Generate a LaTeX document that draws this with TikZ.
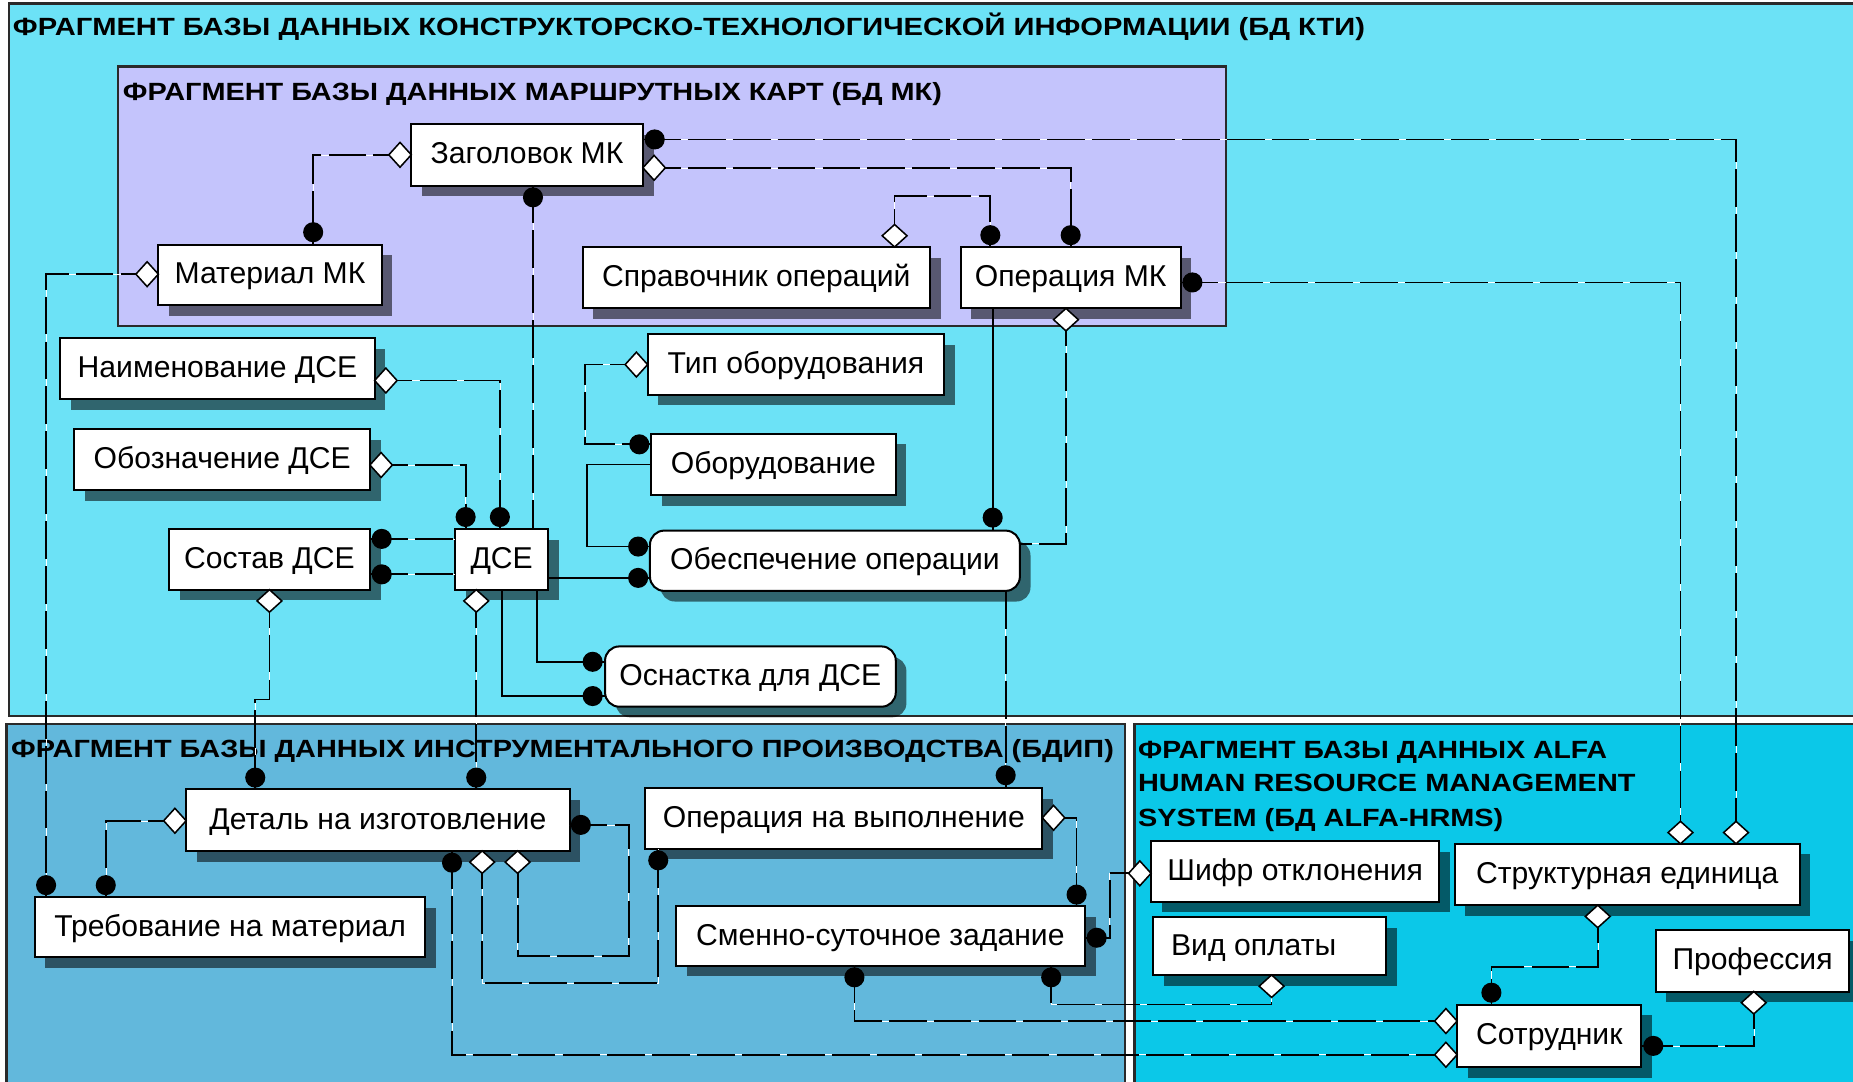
\documentclass[tikz,border=0pt]{standalone}
\usepackage{fontspec}
\setmainfont{Liberation Sans}
\usepackage{graphicx}
\usetikzlibrary{shadows}
\definecolor{ckti}{HTML}{6CE2F6}
\definecolor{cmk}{HTML}{C4C4FC}
\definecolor{cdip}{HTML}{62B8DC}
\definecolor{calfa}{HTML}{0BC8E8}
\definecolor{cbord}{HTML}{2A2A2A}
\newcommand\ttlx[3]{\resizebox{#1}{#2}{\bfseries\smash{#3}\vphantom{H}}}
\newcommand\ebox[7][]{\node[ebx,#1,minimum width={(#5-#3)*1pt},minimum height={(#6-#4)*1pt}] (#2) at ({(#3+#5)/2},{(#4+#6)/2}) {#7};}
\begin{document}
\begin{tikzpicture}[x=1pt,y=-1pt,
  ebx/.style={draw=black,line width=1.7pt,fill=white,inner sep=0pt,outer sep=0pt,
     font=\fontsize{25.5}{30}\selectfont,text height=18.4pt,text depth=3pt,
     drop shadow={shadow xshift=9pt,shadow yshift=-9pt,fill=black,opacity=.55}},
  rnd/.style={rounded corners=12pt},
  dl/.style={line width=1.5pt,draw=black,dash pattern=on 32pt off 6pt,preaction={draw=white,solid}},
  sl/.style={line width=1.5pt,draw=black},
  pnl/.style={draw=cbord,line width=2.2pt},
  ttl/.style={anchor=west,inner sep=0pt,outer sep=0pt},
  mdot/.pic={\fill[black] (0,0) circle (8.5pt);},
  hdia/.pic={\filldraw[fill=white,draw=black,line width=1.3pt] (-9.5,0)--(0,-10.5)--(9.5,0)--(0,10.5)--cycle;},
  vdia/.pic={\filldraw[fill=white,draw=black,line width=1.3pt] (-10.5,0)--(0,-9.5)--(10.5,0)--(0,9.5)--cycle;}
]
\useasboundingbox (0,0) rectangle (1568,915);
\clip (0,0) rectangle (1568,915);
\fill[white] (0,0) rectangle (1568,915);
% panels
\filldraw[pnl,fill=ckti] (7.5,3) rectangle (1590,606);
\filldraw[pnl,fill=cmk] (100,56.5) rectangle (1037.5,276);
\filldraw[pnl,fill=cdip] (5.5,612.5) rectangle (952,935);
\filldraw[pnl,fill=calfa] (960,612.5) rectangle (1590,935);
% titles
\node[ttl] (tkti) at (11,22.6) {\ttlx{1144pt}{14.5pt}{ФРАГМЕНТ БАЗЫ ДАННЫХ КОНСТРУКТОРСКО-ТЕХНОЛОГИЧЕСКОЙ ИНФОРМАЦИИ (БД КТИ)}};
\node[ttl] (tmk) at (104,77.6) {\ttlx{693pt}{14.5pt}{ФРАГМЕНТ БАЗЫ ДАННЫХ МАРШРУТНЫХ КАРТ (БД МК)}};
\node[ttl] (tdip) at (9.5,633.5) {\ttlx{933pt}{14.5pt}{ФРАГМЕНТ БАЗЫ ДАННЫХ ИНСТРУМЕНТАЛЬНОГО ПРОИЗВОДСТВА (БДИП)}};
\node[ttl] (talfa1) at (963,634.6) {\ttlx{397pt}{14.5pt}{ФРАГМЕНТ БАЗЫ ДАННЫХ ALFA}};
\node[ttl] (talfa2) at (963,662.8) {\ttlx{421pt}{14.5pt}{HUMAN RESOURCE MANAGEMENT}};
\node[ttl] (talfa3) at (963,692.4) {\ttlx{309pt}{14.5pt}{SYSTEM (БД ALFA-HRMS)}};
% entities
\ebox{zag}{348}{105}{544}{157}{Заголовок МК}
\ebox{mat}{134}{207}{323}{258}{Материал МК}
\ebox{spr}{493}{209}{787}{261}{Справочник операций}
\ebox{opmk}{813}{209}{999}{261}{Операция МК}
\ebox{naim}{51}{286}{317}{338}{Наименование ДСЕ}
\ebox{tip}{548}{283}{799}{334}{Тип оборудования}
\ebox{oboz}{63}{363}{313}{415}{Обозначение ДСЕ}
\ebox{obor}{551}{367}{758}{419}{Оборудование}
\ebox{sost}{143}{448}{313}{499}{Состав ДСЕ}
\ebox{dse}{385}{448}{464}{499}{ДСЕ}
\ebox[rnd]{obesp}{550}{449}{863}{500}{Обеспечение операции}
\ebox[rnd]{osn}{512}{547}{758}{598}{Оснастка для ДСЕ}
\ebox{det}{157.5}{668}{482}{720}{Деталь на изготовление}
\ebox{opv}{546}{667}{882}{718}{Операция на выполнение}
\ebox{treb}{29.5}{759}{360}{810}{Требование на материал}
\ebox{smen}{572}{767}{918}{817}{Сменно-суточное задание}
\ebox{shifr}{974}{712}{1218}{763}{Шифр отклонения}
\ebox{struct}{1231}{714}{1523}{766}{Структурная единица}
\ebox{vid}{976}{776}{1173}{825}{\makebox[197pt][l]{\hspace*{15pt}Вид оплаты}}
\ebox{prof}{1401}{787}{1565}{839}{Профессия}
\ebox{sotr}{1233}{850}{1389}{903}{Сотрудник}
% connectors
\draw[dl] (zag.west |- 0,131) -| (mat.north -| 265,0);
\draw[dl] (zag.south -| 451,0) -- (dse.north -| 451,0);
\draw[dl] (zag.east |- 0,118) -| (struct.north -| 1469,0);
\draw[dl] (zag.east |- 0,142) -| (opmk.north -| 906,0);
\draw[dl] (spr.north -| 757,0) |- (838,166) -- (opmk.north -| 838,0);
\draw[dl] (opmk.east |- 0,239) -| (struct.north -| 1422,0);
\draw[sl] (opmk.south -| 840,0) -- (obesp.north -| 840,0);
\draw[dl] (opmk.south -| 902,0) |- (obesp.east |- 0,460);
\draw[dl] (naim.east |- 0,322) -| (dse.north -| 423,0);
\draw[dl] (oboz.east |- 0,393.5) -| (dse.north -| 394,0);
\draw[dl] (sost.east |- 0,456) -- (dse.west |- 0,456);
\draw[dl] (sost.east |- 0,486) -- (dse.west |- 0,486);
\draw[dl] (sost.south -| 228,0) -- (228,592) -- (216,592) -- (det.north -| 216,0);
\draw[dl] (dse.south -| 403,0) -- (det.north -| 403,0);
\draw[sl] (dse.east |- 0,489) -- (obesp.west |- 0,489);
\draw[sl] (dse.south -| 454.5,0) |- (osn.west |- 0,560);
\draw[sl] (dse.south -| 425,0) |- (osn.west |- 0,589);
\draw[dl] (tip.west |- 0,308.5) -| (495,376) -- (obor.west |- 0,376);
\draw[sl] (obor.west |- 0,393) -| (497,462.5) -- (obesp.west |- 0,462.5);
\draw[dl] (obesp.south -| 851,0) -- (opv.north -| 851,0);
\draw[dl] (mat.west |- 0,232) -| (treb.north -| 39,0);
\draw[dl] (det.west |- 0,694.5) -| (treb.north -| 89.5,0);
\draw[dl] (det.east |- 0,698) -| (532,809) -| (det.south -| 438,0);
\draw[dl] (det.south -| 408,0) |- (557,832) -- (opv.south -| 557,0);
\draw[dl] (det.south -| 382.5,0) |- (sotr.west |- 0,892.5);
\draw[dl] (opv.east |- 0,692) -| (smen.north -| 911,0);
\draw[dl] (smen.east |- 0,793.5) -| (939,739) -- (shifr.west |- 0,739);
\draw[dl] (smen.south -| 723,0) |- (sotr.west |- 0,864);
\draw[dl] (smen.south -| 889.5,0) |- (1076,850) -- (vid.south -| 1076,0);
\draw[dl] (struct.south -| 1352,0) |- (1262,818) -- (sotr.north -| 1262,0);
\draw[dl] (prof.south -| 1484,0) |- (sotr.east |- 0,885);
% markers: dots
\foreach \p in {(265,196.5),(451,167),(554,118),(906,199),(838,199),(1009,239),(840,438),
  (423,437.5),(394,437.5),(323,456),(323,486),(216,658),(403,658),(540,489),(501.5,560),
  (501.5,589),(541,376),(540,462.5),(851,656),(39,749),(89.5,749),(491.5,698),(557,728),
  (382.5,730),(911,757),(928,793.5),(723,827),(889.5,827),(1262,840),(1399,885)}
  \pic at \p {mdot};
% markers: diamonds on horizontal lines
\foreach \p in {(338.5,131),(553.5,142),(326.5,322),(322.5,393.5),(538.5,308.5),(124.5,232),
  (148,694.5),(891.5,692),(964.5,739),(1223.5,864),(1223.5,892.5)}
  \pic at \p {hdia};
% markers: diamonds on vertical lines
\foreach \p in {(1469,704.5),(757,199.5),(1422,704.5),(902,270.5),(228,508.5),(403,508.5),
  (438,729.5),(408,729.5),(1076,834.5),(1352,775.5),(1484,848.5)}
  \pic at \p {vdia};
\end{tikzpicture}
\end{document}
